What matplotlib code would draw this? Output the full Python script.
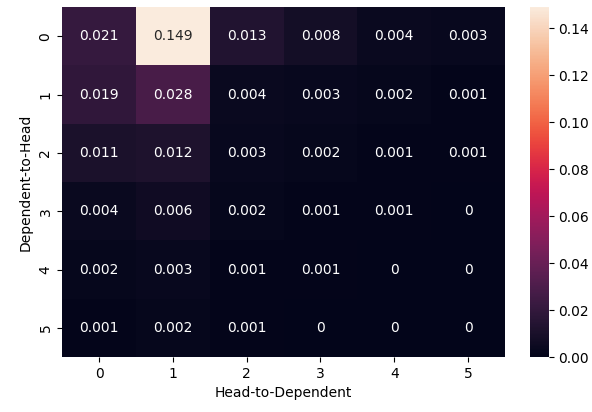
import numpy as np
import matplotlib
matplotlib.use("Agg")
import matplotlib.pyplot as plt
import seaborn as sns

# rows: Dependent-to-Head, cols: Head-to-Dependent
row_labels = ["0", "1", "2", "3", "4", "5"]
col_labels = ["0", "1", "2", "3", "4", "5"]
values = [
    [0.021, 0.149, 0.013, 0.008, 0.004, 0.003],
    [0.019, 0.028, 0.004, 0.003, 0.002, 0.001],
    [0.011, 0.012, 0.003, 0.002, 0.001, 0.001],
    [0.004, 0.006, 0.002, 0.001, 0.001, 0.0],
    [0.002, 0.003, 0.001, 0.001, 0.0, 0.0],
    [0.001, 0.002, 0.001, 0.0, 0.0, 0.0],
]

data = np.array(values)
labels = np.array([[f"{v:g}" for v in row] for row in values])

fig = plt.figure(figsize=(5.92, 4.12), dpi=100)
ax = fig.add_axes([0.105, 0.133, 0.748, 0.85])
cax = fig.add_axes([0.895, 0.133, 0.032, 0.85])

sns.heatmap(data, annot=labels, fmt="", ax=ax, cbar_ax=cax,
            xticklabels=col_labels, yticklabels=row_labels,
            vmin=0, annot_kws={"size": 10})
ax.set_xlabel("Head-to-Dependent")
ax.set_ylabel("Dependent-to-Head")
cax.set_yticks(np.arange(0, 0.15, 0.02))
cax.set_yticklabels([f"{t:.2f}" for t in np.arange(0, 0.15, 0.02)])

fig.savefig("out.png", dpi=100)
